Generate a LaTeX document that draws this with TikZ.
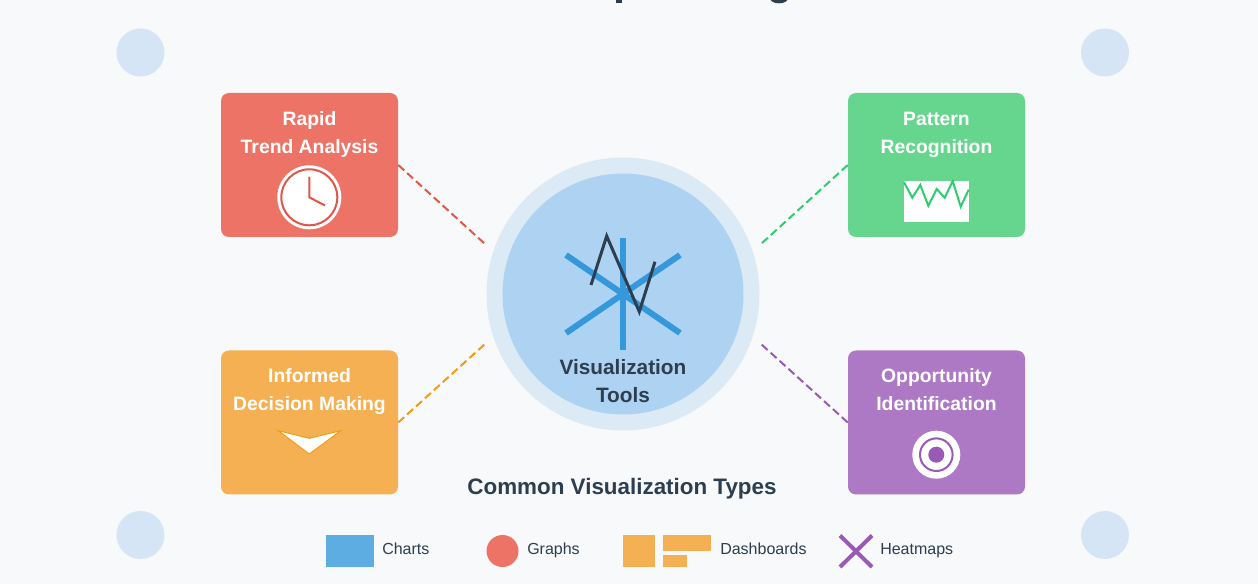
\documentclass[tikz,border=0pt]{standalone}
\usepackage{fontspec}
\setmainfont{Liberation Sans}
\definecolor{pagebg}{HTML}{F8F9FA}
\definecolor{softblue}{HTML}{D5E5F5}
\definecolor{hubouter}{HTML}{DCEAF6}
\definecolor{hubinner}{HTML}{AED2F1}
\definecolor{inkdark}{HTML}{2C3E50}
\definecolor{starblue}{HTML}{3498DB}
\definecolor{chartblue}{HTML}{5DADE2}
\definecolor{redbox}{HTML}{EE7367}
\definecolor{greenbox}{HTML}{66D68E}
\definecolor{orangebox}{HTML}{F4B052}
\definecolor{purplebox}{HTML}{AE79C4}
\definecolor{redline}{HTML}{E0574A}
\definecolor{greenline}{HTML}{2ECC71}
\definecolor{orangeline}{HTML}{F39C12}
\definecolor{purpleline}{HTML}{9B59B6}
\tikzset{
	benefit/.style={rectangle, rounded corners=6pt, minimum width=132.75pt, minimum height=108pt, inner sep=0pt},
	benefittext/.style={align=center, text=white, inner sep=0pt, font=\bfseries\fontsize{14.5}{21}\selectfont},
	link/.style={line width=1.5pt, dash pattern=on 6pt off 3pt},
	legendtext/.style={anchor=base west, inner sep=0pt, text=inkdark, font=\fontsize{12}{14}\selectfont},
}

\begin{document}
\begin{tikzpicture}[x=0.75pt, y=-0.75pt]

	% Page and its margins.
	\fill[pagebg] (0,0) rectangle (1258,584);
	\useasboundingbox (0,0) rectangle (1258,584);

	% Cut-off ends of the heading.
	\fill[inkdark] (616.3,0) rectangle (622,2.7);
	\fill[inkdark] (770.7,0) .. controls (773,4.4) and (785,4.4) .. (787.3,0) -- cycle;

	% Draw corner dots.
	\foreach \x in {140.5,1105} {
		\foreach \y in {52.5,535} {
			\fill[softblue] (\x, \y) circle (24);
		}
	}

	% Draw hub.
	\node[circle, fill=hubouter, minimum size=204.75pt, inner sep=0pt] (hubouter) at (623,294) {};
	\node[circle, fill=hubinner, minimum size=180.75pt, inner sep=0pt] (hubinner) at (623,294) {};

	% Draw hub icon.
	\draw[starblue, line width=4.5pt] (623,238) -- (623,350);
	\foreach \a/\b in {566/680, 680/566} {
		\draw[starblue, line width=4.5pt] (\a,255) -- (\b,333);
	}
	\draw[inkdark, line width=2.25pt] (591,285) -- (606.7,236) -- (639.3,311.7) -- (655,261.7);
	\node[align=center, text=inkdark, inner sep=0pt, font=\bfseries\fontsize{15.6}{21}\selectfont] (hublabel) at (623,381) {Visualization\\Tools};

	% Draw boxes.
	\node[benefit, fill=redbox] (rapid) at (309.5,165) {};
	\node[benefit, fill=greenbox] (pattern) at (936.5,165) {};
	\node[benefit, fill=orangebox] (informed) at (309.5,422.5) {};
	\node[benefit, fill=purplebox] (opportunity) at (936.5,422.5) {};

	\node[benefittext] (rapidlabel) at (309.5,135) {Rapid\\Trend Analysis};
	\node[benefittext] (patternlabel) at (936.5,135) {Pattern\\Recognition};
	\node[benefittext] (informedlabel) at (309.5,391.5) {Informed\\Decision Making};
	\node[benefittext] (opportunitylabel) at (936.5,389.5) {Opportunity\\Identification};

	% Draw connectors.
	\coordinate (hubnw) at (485,244);
	\coordinate (hubne) at (761,244);
	\coordinate (hubsw) at (485,344);
	\coordinate (hubse) at (761,344);
	\draw[link, redline] (rapid.east) -- (hubnw);
	\draw[link, greenline] (pattern.west) -- (hubne);
	\draw[link, orangeline] (informed.east) -- (hubsw);
	\draw[link, purpleline] (opportunity.west) -- (hubse);

	% Clock icon.
	\fill[white] (309.3,197.3) circle (32);
	\draw[redline, line width=1.5pt, fill=white] (309.3,197.3) circle (28);
	\draw[redline, line width=1.5pt] (309.3,177) -- (309.3,197.3) -- (325,205.5);

	% Wave icon.
	\fill[white] (904,181.3) rectangle (968.7,221.7);
	\draw[greenline, line width=1.5pt] (904,182.3) -- (912.3,197.7) -- (920.3,185) -- (928.3,205.7) -- (936.7,189) -- (944.7,197.7) -- (952.7,181) -- (960.7,206.7) -- (968.7,189.7);

	% Arrow icon.
	\draw[orangeline, line width=0.75pt, fill=white] (278.3,430.7) -- (309.3,438.3) -- (340.7,430.7) -- (309.3,454) -- cycle;

	% Target icon.
	\fill[white] (936.3,454.7) circle (24);
	\draw[purpleline, line width=1.5pt] (936.3,454.7) circle (16.3);
	\fill[purpleline] (936.3,454.7) circle (8);

	% Legend.
	\node[anchor=base, text=inkdark, inner sep=0pt, font=\bfseries\fontsize{16.8}{20}\selectfont] (legendtitle) at (622,495) {Common Visualization Types};

	\fill[chartblue] (326,535) rectangle (374,567);
	\node[legendtext] (charts) at (382,555) {Charts};

	\fill[redbox] (502.5,551) circle (16);
	\node[legendtext] (graphs) at (527,555) {Graphs};

	\fill[orangebox] (623,535) rectangle (655,567);
	\fill[orangebox] (663,535) rectangle (711,551);
	\fill[orangebox] (663,555) rectangle (687,567);
	\node[legendtext] (dashboards) at (720,555) {Dashboards};

	\draw[purpleline, line width=3pt] (840,535.5) -- (872,567);
	\draw[purpleline, line width=3pt] (872,535.5) -- (840,567);
	\node[legendtext] (heatmaps) at (880,555) {Heatmaps};

\end{tikzpicture}
\end{document}
